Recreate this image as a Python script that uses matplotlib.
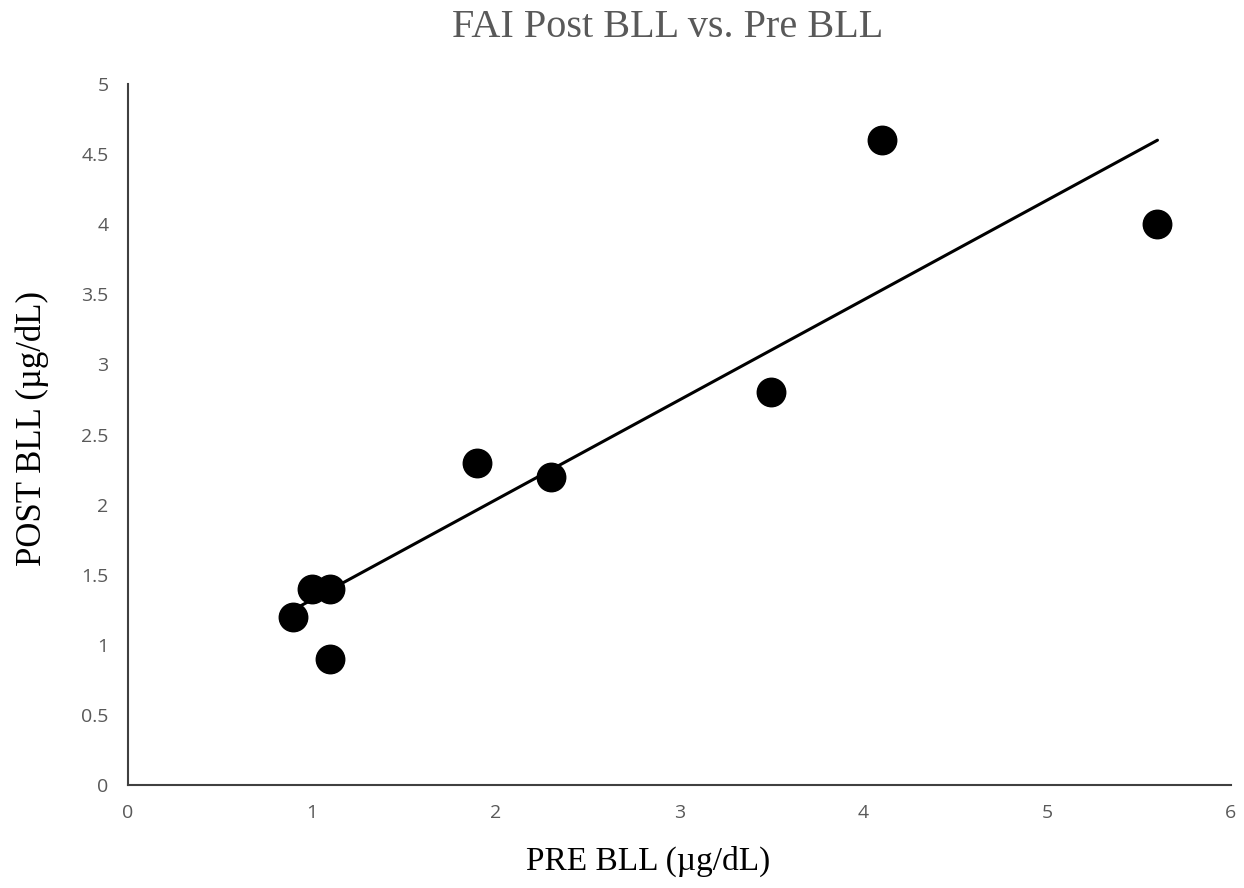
import numpy as np
import matplotlib
matplotlib.use("Agg")
import matplotlib.pyplot as plt

pre_bll = [0.9, 1.0, 1.1, 1.1, 1.9, 2.3, 3.5, 4.1, 5.6]
post_bll = [1.2, 1.4, 1.4, 0.9, 2.3, 2.2, 2.8, 4.6, 4.0]
x_ticks = [0, 1, 2, 3, 4, 5, 6]
y_ticks = [0, 0.5, 1, 1.5, 2, 2.5, 3, 3.5, 4, 4.5, 5]
y_tick_labels = ["0", "0.5", "1", "1.5", "2", "2.5", "3", "3.5", "4", "4.5", "5"]

fig = plt.figure(figsize=(12.44, 8.88), dpi=100)
ax = fig.add_axes([128/1244, (888-785)/888, (1231-128)/1244, (785-84)/888])

x = np.array(pre_bll)
y = np.array(post_bll)
slope, intercept = np.polyfit(x, y, 1)
xs = np.array([x.min(), x.max()])
ax.plot(xs, slope*xs + intercept, color="black", lw=2.2, solid_capstyle="round", zorder=2)
ax.plot(x, y, "o", color="black", markersize=20.5, zorder=3)

ax.set_xlim(0, 6)
ax.set_ylim(0, 5)
ax.set_xticks(x_ticks)
ax.set_yticks(y_ticks)
ax.set_yticklabels(y_tick_labels)
ax.tick_params(length=0, pad=14, labelsize=14, labelcolor="#595959")
for lab in ax.get_xticklabels() + ax.get_yticklabels():
    lab.set_fontfamily("Open Sans")

for s in ["top", "right"]:
    ax.spines[s].set_visible(False)
for s in ["left", "bottom"]:
    ax.spines[s].set_color("#404040")
    ax.spines[s].set_linewidth(1.5)

fig.text(668/1244, 1 - 37/888, "FAI Post BLL vs. Pre BLL", ha="center", va="baseline",
         fontsize=29, color="#595959", family="Liberation Serif")
fig.text(648/1244, 1 - 870/888, "PRE BLL (\u00b5g/dL)", ha="center", va="baseline",
         fontsize=24, color="black", family="Liberation Serif")
fig.text(32/1244, 1 - 428/888, "POST BLL (\u00b5g/dL)", ha="center", va="center",
         rotation=90, fontsize=25, color="black", family="Liberation Serif")

fig.savefig("out.png", dpi=100)
